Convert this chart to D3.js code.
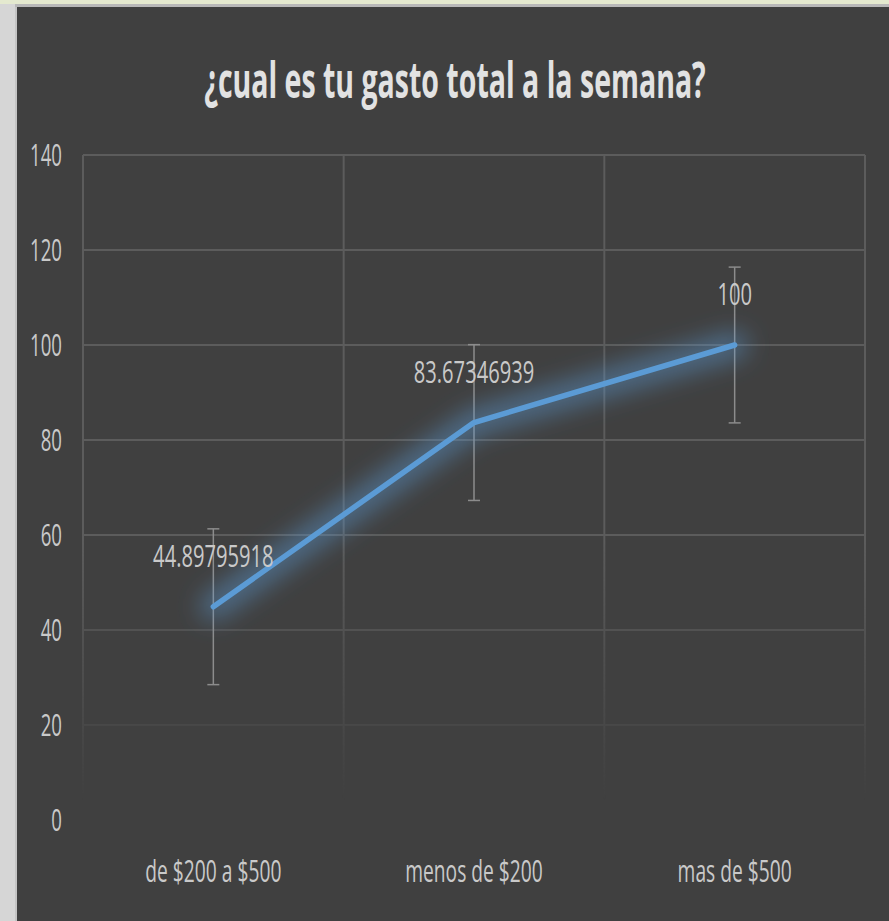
<!DOCTYPE html>
<html>
<head>
<meta charset="utf-8">
<script src="https://cdn.jsdelivr.net/npm/d3@7.9.0/dist/d3.min.js"></script>
<style>
  html, body { margin: 0; padding: 0; background: #d6d6d6; }
  svg { display: block; }
  text { font-family: "Open Sans", sans-serif; }
</style>
</head>
<body>
<svg id="chart" width="889" height="921"></svg>
<script>
// data
const categories = ["de $200 a $500", "menos de $200", "mas de $500"];
const values = [44.89795918, 83.67346939, 100];
const labels = ["44.89795918", "83.67346939", "100"];
const errors = [16.4, 16.4, 16.4];
const yTicks = [0, 20, 40, 60, 80, 100, 120, 140];
const title = "¿cual es tu gasto total a la semana?";

const W = 889, H = 921;
const margin = {left: 83, right: 24, top: 155, bottom: 101};

const svg = d3.select("#chart");
const defs = svg.append("defs");

// screenshot frame
svg.append("rect").attr("width", W).attr("height", H).attr("fill", "#d6d6d6");
svg.append("rect").attr("width", W).attr("height", 4).attr("fill", "#e4e9cf");
svg.append("rect").attr("x", 15).attr("y", 4).attr("width", W).attr("height", 3).attr("fill", "#b8b8b8");
svg.append("rect").attr("x", 15).attr("y", 7).attr("width", 2).attr("height", H).attr("fill", "#c4c4c4");
svg.append("rect").attr("x", 17).attr("y", 7).attr("width", W - 17).attr("height", H - 7).attr("fill", "#404040");

const x = d3.scaleBand().domain(categories).range([margin.left, W - margin.right]);
const y = d3.scaleLinear().domain([0, 140]).range([H - margin.bottom, margin.top]);

// fade for the grid towards the bottom
const grad = defs.append("linearGradient").attr("id", "fade")
  .attr("gradientUnits", "userSpaceOnUse")
  .attr("x1", 0).attr("x2", 0).attr("y1", 0).attr("y2", H);
grad.append("stop").attr("offset", 540 / H).attr("stop-color", "white");
grad.append("stop").attr("offset", 800 / H).attr("stop-color", "black");
defs.append("mask").attr("id", "gridMask")
  .attr("maskUnits", "userSpaceOnUse")
  .attr("x", 0).attr("y", 0).attr("width", W).attr("height", H)
  .append("rect").attr("width", W).attr("height", H).attr("fill", "url(#fade)");

const grid = svg.append("g").attr("mask", "url(#gridMask)")
  .attr("stroke", "#5c5c5c").attr("stroke-width", 2);
grid.selectAll("line.h").data(yTicks).join("line")
  .attr("class", "h")
  .attr("x1", margin.left).attr("x2", W - margin.right)
  .attr("y1", d => y(d)).attr("y2", d => y(d));
const bounds = categories.map(c => x(c)).concat([x.range()[1]]);
grid.selectAll("line.v").data(bounds).join("line")
  .attr("class", "v")
  .attr("x1", d => d).attr("x2", d => d)
  .attr("y1", y(140)).attr("y2", y(0));

// the original text is very narrow, so squeeze it horizontally
function narrowText(g, tx, ty, str, size, sx, anchor, fill, weight) {
  return g.append("g").attr("transform", `translate(${tx},${ty}) scale(${sx},1)`)
    .append("text")
    .attr("text-anchor", anchor)
    .attr("font-size", size)
    .attr("font-weight", weight || 400)
    .attr("fill", fill)
    .text(str);
}

// y axis labels
yTicks.forEach(v => narrowText(svg, 62, y(v) + 11, String(v), 31, 0.6, "end", "#c9c9c9"));

// category labels
categories.forEach(c => narrowText(svg, x(c) + x.bandwidth() / 2, 882, c, 31, 0.62, "middle", "#c9c9c9"));

// title
narrowText(svg, 455, 98, title, 50, 0.57, "middle", "#e2e2e2", 700);

const cx = i => x(categories[i]) + x.bandwidth() / 2;

// error bars
const eb = svg.append("g").attr("stroke", "#8c8c8c").attr("stroke-width", 1.5);
values.forEach((v, i) => {
  const top = y(v + errors[i]), bot = y(v - errors[i]);
  eb.append("line").attr("x1", cx(i)).attr("x2", cx(i)).attr("y1", top).attr("y2", bot);
  eb.append("line").attr("x1", cx(i) - 6).attr("x2", cx(i) + 6).attr("y1", top).attr("y2", top);
  eb.append("line").attr("x1", cx(i) - 6).attr("x2", cx(i) + 6).attr("y1", bot).attr("y2", bot);
});

// line with glow
const blur = defs.append("filter").attr("id", "glow")
  .attr("x", "-30%").attr("y", "-30%").attr("width", "160%").attr("height", "160%");
blur.append("feGaussianBlur").attr("stdDeviation", 12);

const line = d3.line().x((d, i) => cx(i)).y(d => y(d));
svg.append("path").datum(values)
  .attr("d", line)
  .attr("fill", "none")
  .attr("stroke", "#5b9bd5")
  .attr("stroke-opacity", 0.5)
  .attr("stroke-width", 26)
  .attr("stroke-linecap", "round")
  .attr("stroke-linejoin", "round")
  .attr("filter", "url(#glow)");
svg.append("path").datum(values)
  .attr("d", line)
  .attr("fill", "none")
  .attr("stroke", "#5b9bd5")
  .attr("stroke-width", 5.5)
  .attr("stroke-linecap", "round")
  .attr("stroke-linejoin", "round");

// data labels
values.forEach((v, i) => narrowText(svg, cx(i), y(v) - 40, labels[i], 31, 0.65, "middle", "#c9c9c9"));
</script>
</body>
</html>
